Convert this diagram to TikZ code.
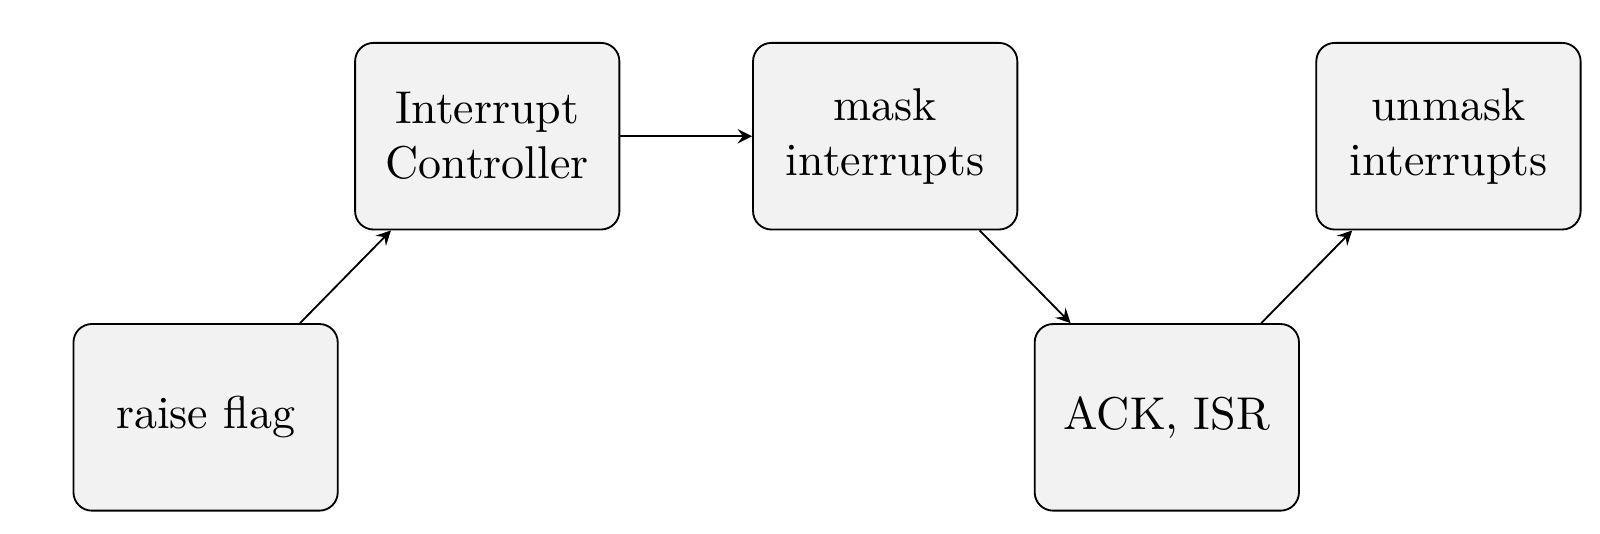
\documentclass[tikz,border=0pt]{standalone}
\usepackage{tikz}

\begin{document}
\begin{tikzpicture}[x=0.222pt, y=-0.222pt,
	box/.style={draw, rounded corners=4pt, fill=gray!10, align=center,
		minimum width=57.5pt, minimum height=40.6pt, inner sep=0pt}]
	\useasboundingbox (0,0) rectangle (1568,523);
	% boxes
	\node[box] (raise) at (201.5,409) {raise flag};
	\node[box] (ic) at (477.5,133.5) {Interrupt\\Controller};
	\node[box] (mask) at (867.5,133.5) {mask\\interrupts};
	\node[box] (ack) at (1143.5,409) {ACK, ISR};
	\node[box] (unmask) at (1419.5,133.5) {unmask\\interrupts};
	% arrows
	\draw [-stealth] ([xshift=-8.4pt]raise.north east) -- ([xshift=8pt]ic.south west);
	\draw [-stealth] (ic.east) -- (mask.west);
	\draw [-stealth] ([xshift=-8.4pt]mask.south east) -- ([xshift=8pt]ack.north west);
	\draw [-stealth] ([xshift=-8.4pt]ack.north east) -- ([xshift=8pt]unmask.south west);
\end{tikzpicture}
\end{document}
